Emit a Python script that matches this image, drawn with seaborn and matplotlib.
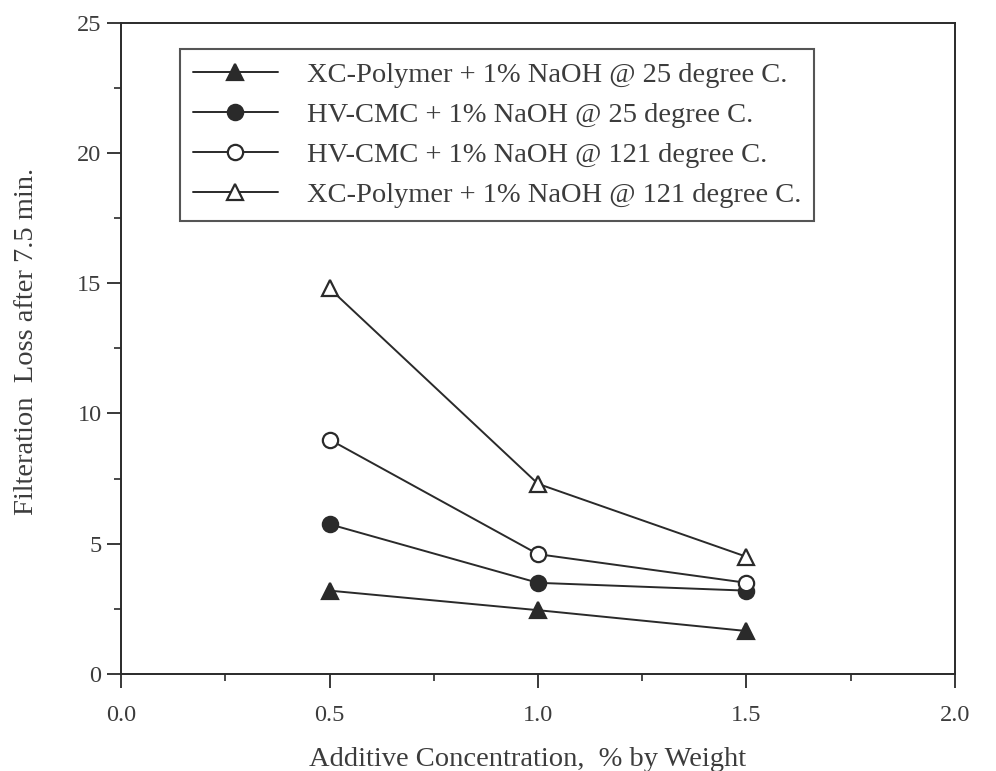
import matplotlib
matplotlib.use("Agg")
import matplotlib.pyplot as plt
import seaborn as sns
import pandas as pd
from matplotlib.ticker import MultipleLocator

# Data
concentration = [0.5, 1.0, 1.5]
xc_25 = [3.2, 2.45, 1.65]
hv_25 = [5.75, 3.5, 3.2]
hv_121 = [9.0, 4.6, 3.5]
xc_121 = [14.8, 7.3, 4.5]

labels = [
    "XC-Polymer + 1% NaOH @ 25 degree C.",
    "HV-CMC + 1% NaOH @ 25 degree C.",
    "HV-CMC + 1% NaOH @ 121 degree C.",
    "XC-Polymer + 1% NaOH @ 121 degree C.",
]
series = [xc_25, hv_25, hv_121, xc_121]
markers = ["^", "o", "o", "^"]
filled = [True, True, False, False]

xticks = [0.0, 0.5, 1.0, 1.5, 2.0]
yticks = [0, 5, 10, 15, 20, 25]

sns.set_style("white")
plt.rcParams["font.family"] = ["Liberation Serif", "DejaVu Serif"]

ink = "#2a2a2a"
txt = "#3c3c3c"
fig = plt.figure(figsize=(9.96, 7.71), dpi=100)
ax = fig.add_axes([0.1215, 0.1258, 0.8373, 0.8448])

for lab, vals, m, f in zip(labels, series, markers, filled):
    df = pd.DataFrame({"x": concentration, "y": vals})
    sns.lineplot(data=df, x="x", y="y", ax=ax, color=ink, linewidth=1.4,
                 marker=m, markersize=12 if m == "^" else 11,
                 markerfacecolor=ink if f else "white",
                 markeredgecolor=ink, markeredgewidth=1.6, label=lab)

ax.set_xlim(0, 2.0)
ax.set_ylim(0, 25)
ax.set_xticks(xticks)
ax.set_xticklabels([f"{t:.1f}" for t in xticks])
ax.set_yticks(yticks)
ax.set_yticklabels([str(t) for t in yticks])
ax.xaxis.set_minor_locator(MultipleLocator(0.25))
ax.yaxis.set_minor_locator(MultipleLocator(2.5))
ax.tick_params(axis="both", which="major", direction="out", length=10, width=1.3,
               color=ink, labelsize=17.5, labelcolor=txt,
               bottom=True, left=True, top=False, right=False)
ax.tick_params(axis="both", which="minor", direction="out", length=5, width=1.2,
               color=ink, bottom=True, left=True, top=False, right=False)
ax.tick_params(axis="x", which="major", pad=12)
ax.tick_params(axis="y", which="major", pad=4)

for s in ax.spines.values():
    s.set_color(ink)
    s.set_linewidth(1.4)
    s.set_visible(True)

ax.set_xlabel("Additive Concentration,  % by Weight", fontsize=20.5, color=txt)
ax.set_ylabel("Filteration  Loss after 7.5 min.", fontsize=20.5, color=txt)
ax.xaxis.set_label_coords(0.488, -0.112)
ax.yaxis.set_label_coords(-0.098, 0.51)

leg = ax.legend(loc="upper left", bbox_to_anchor=(0.0707, 0.9596), borderaxespad=0,
                fontsize=20.5, frameon=True, fancybox=False, edgecolor=ink,
                handlelength=3.0, handletextpad=1.0, labelspacing=0.5,
                borderpad=0.45)
leg.get_frame().set_linewidth(1.5)
for t in leg.get_texts():
    t.set_color(txt)

fig.savefig("out.png", dpi=100)
